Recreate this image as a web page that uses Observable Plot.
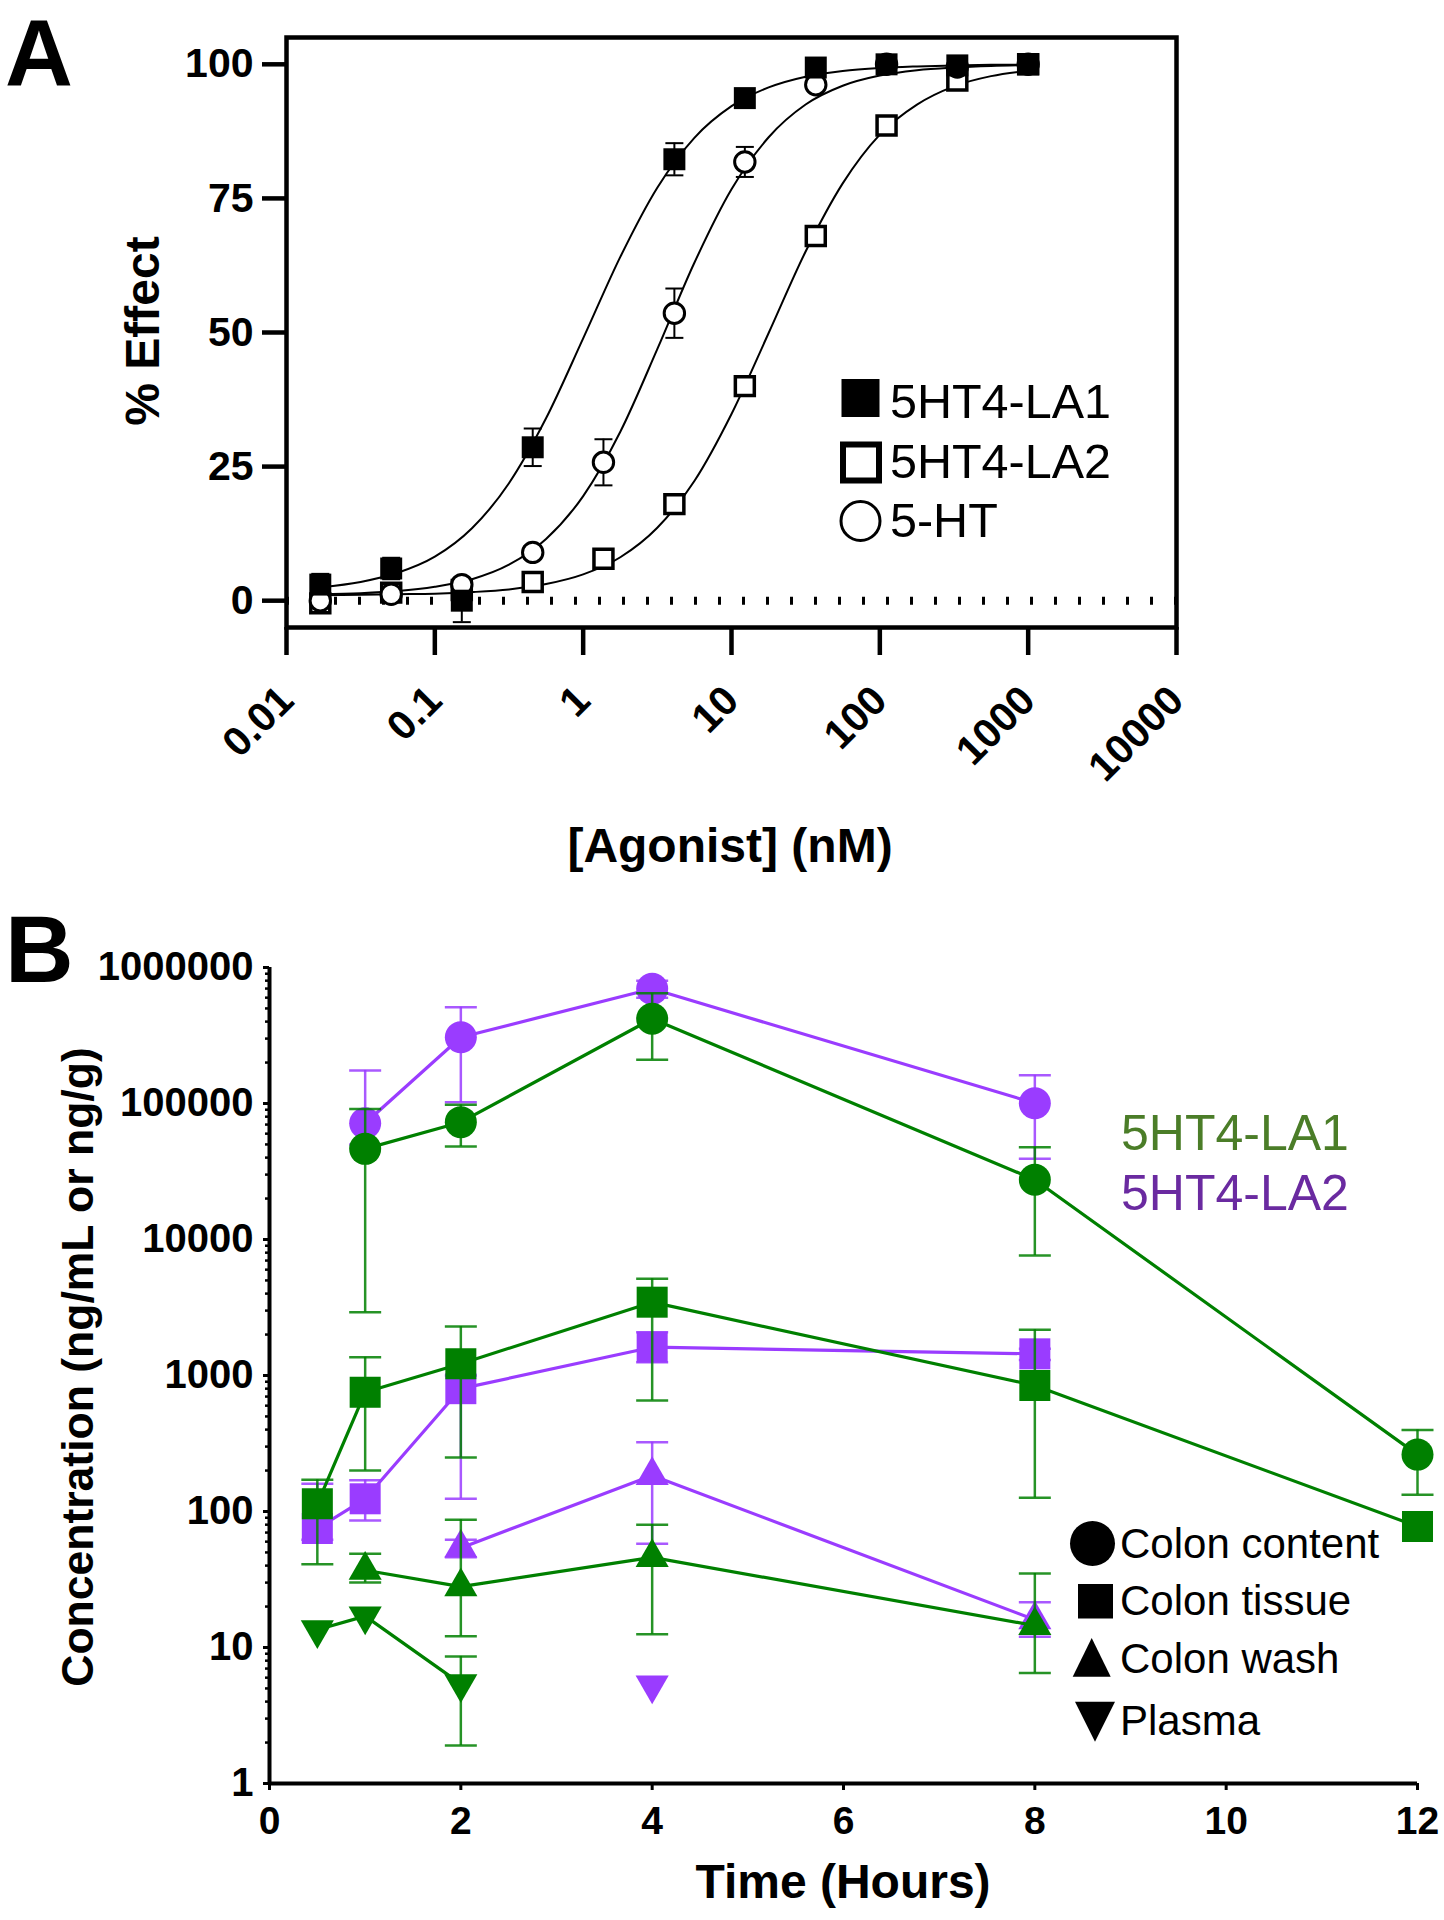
<!DOCTYPE html>
<html><head><meta charset="utf-8">
<script src="https://cdn.jsdelivr.net/npm/d3@7"></script>
<script src="https://cdn.jsdelivr.net/npm/@observablehq/plot@0.6"></script>
<style>
html,body{margin:0;padding:0;background:#fff;overflow:hidden;}
#root{position:relative;width:1444px;height:1920px;overflow:hidden;background:#fff;}
#pA,#pB,#ov{position:absolute;left:0;}
#pA{top:0}#pB{top:900px}#ov{top:0;pointer-events:none}
</style></head><body>
<div id="root"><div id="pA"></div><div id="pB"></div><svg id="ov" width="1444" height="1920"></svg></div>
<script>
// ================= Panel A data =================
const seriesA = ["5HT4-LA1", "5HT4-LA2", "5-HT"];
const agonistConc = [0.0169, 0.0508, 0.152, 0.457, 1.37, 4.12, 12.3, 37.0, 111, 333, 1000];
const la1Effect = [3, 6, 0, 28.6, null, 82.3, 93.7, 99.4, 100, 99.8, 100];
const la1Err    = [2, 2, 4, 3.5, null, 3, 1, 0.6, 0.5, 0.5, 0.5];
const la2Effect = [-0.5, 1.5, 2, 3.5, 7.8, 18, 40, 68, 88.6, 97, 100];
const la2Err    = [1, 1, 1, 1, 1, 1, 1.2, 1.2, 1, 1, 0.5];
const htEffect  = [0, 1.2, 3, 9, 25.8, 53.6, 81.8, 96.2, 100, 99.5, 100];
const htErr     = [0.5, 1, 1, 1.2, 4.3, 4.6, 2.8, 1, 0.5, 0.5, 0.5];
// fitted curves
const fitConc = [0.0169, 0.0316, 0.0562, 0.1, 0.178, 0.316, 0.562, 1, 1.78, 3.16, 5.62, 10, 17.8, 31.6, 56.2, 100, 178, 316, 562, 1000];
const la1Fit = [2.5, 3.5, 5.2, 8.2, 13.5, 21.9, 34.0, 48.9, 64.1, 77.0, 86.3, 92.2, 95.7, 97.7, 98.75, 99.3, 99.6, 99.8, 99.9, 99.95];
const htFit  = [1.2, 1.4, 1.8, 2.6, 4.0, 6.7, 11.5, 19.5, 31.5, 46.9, 63.0, 76.7, 86.4, 92.5, 96.0, 97.9, 98.9, 99.4, 99.7, 99.85];
const la2Fit = [1.0, 1.1, 1.2, 1.3, 1.6, 2.1, 3.1, 4.9, 8.1, 13.6, 22.3, 34.8, 49.9, 65.1, 77.8, 86.9, 92.5, 95.9, 97.8, 98.8];
const xTicksA = [0.01, 0.1, 1, 10, 100, 1000, 10000];
const xTickLabelsA = ["0.01", "0.1", "1", "10", "100", "1000", "10000"];
const yTicksA = [0, 25, 50, 75, 100];
const yTickLabelsA = ["0", "25", "50", "75", "100"];

// ================= Panel B data =================
const seriesB = ["5HT4-LA1", "5HT4-LA2"];
const matrices = ["Colon content", "Colon tissue", "Colon wash", "Plasma"];
const timeH = [0.5, 1, 2, 4, 8, 12];
// 5HT4-LA1
const la1Content   = [null, 46400, 72900, 420000, 27500, 262];
const la1ContentLo = [null, 2920, 48300, 210000, 7630, 133];
const la1ContentHi = [null, 91300, 97700, 646000, 47600, 398];
const la1Tissue    = [114, 753, 1220, 3460, 844, 77.6];
const la1TissueLo  = [41, 200, 250, 655, 126, null];
const la1TissueHi  = [171, 1360, 2290, 5140, 2170, null];
const la1Wash      = [null, 37, 28, 46, 14.5, null];
const la1WashLo    = [null, 30, 12.1, 12.5, 6.5, null];
const la1WashHi    = [null, 49, 87, 80, 35, null];
const la1Plasma    = [13.5, 17, 5.4, null, null, null];
const la1PlasmaLo  = [null, null, 1.9, null, null, null];
const la1PlasmaHi  = [null, null, 8.6, null, null, null];
// 5HT4-LA2
const la2Content   = [null, 71600, 307000, 697000, 100500, null];
const la2ContentLo = [null, 50000, 102000, 600000, 39200, null];
const la2ContentHi = [null, 175000, 510000, 800000, 161000, null];
const la2Tissue    = [75, 124, 800, 1615, 1443, null];
const la2TissueLo  = [62, 86, 124, 1250, 1300, null];
const la2TissueHi  = [160, 170, 1000, 2080, 1570, null];
const la2Wash      = [null, null, 54, 184, 16, null];
const la2WashLo    = [null, null, 46, 58, 12, null];
const la2WashHi    = [null, null, 62, 323, 21.5, null];
const la2Plasma    = [null, null, null, 5.3, null, null];
const la2PlasmaLo  = [null, null, null, null, null, null];
const la2PlasmaHi  = [null, null, null, null, null, null];
const xTicksB = [0, 2, 4, 6, 8, 10, 12];
const xTickLabelsB = ["0", "2", "4", "6", "8", "10", "12"];
const yTicksB = [1, 10, 100, 1000, 10000, 100000, 1000000];
const yTickLabelsB = ["1", "10", "100", "1000", "10000", "100000", "1000000"];
const yMinorB = [2,3,4,5,6,7,8,9, 20,30,40,50,60,70,80,90, 200,300,400,500,600,700,800,900,
  2000,3000,4000,5000,6000,7000,8000,9000, 20000,30000,40000,50000,60000,70000,80000,90000,
  200000,300000,400000,500000,600000,700000,800000,900000];

// ================= helpers =================
const FONT = "'Liberation Sans', Arial, Helvetica, sans-serif";
const GREEN = "#008000", PURPLE = "#9a3cff";
const GREEN_TXT = "#4b7d28", PURPLE_TXT = "#6a2aa0";
const capSymbol = {draw(ctx, size) { const h = Math.sqrt(size / Math.PI); ctx.moveTo(-h, 0); ctx.lineTo(h, 0); }};

function rowsA(vals, errs) {
  return agonistConc.map((x, i) => ({x, y: vals[i], lo: vals[i] == null ? null : vals[i] - errs[i], hi: vals[i] == null ? null : vals[i] + errs[i]}))
    .filter(d => d.y != null);
}
function fitRows(vals) { return fitConc.map((x, i) => ({x, y: vals[i]})); }
function rowsB(vals, lo, hi) {
  return timeH.map((t, i) => ({t, v: vals[i], lo: lo[i], hi: hi[i]})).filter(d => d.v != null);
}
function errRows(rows) { return rows.filter(d => d.lo != null && d.hi != null); }

// ================= Panel A =================
const A1 = rowsA(la1Effect, la1Err), A2 = rowsA(la2Effect, la2Err), AH = rowsA(htEffect, htErr);
function errMarksA(rows) {
  return [
    Plot.ruleX(rows, {x: "x", y1: "lo", y2: "hi", stroke: "black", strokeWidth: 2}),
    Plot.dot(rows, {x: "x", y: "lo", symbol: capSymbol, r: 9, fill: "none", stroke: "black", strokeWidth: 2}),
    Plot.dot(rows, {x: "x", y: "hi", symbol: capSymbol, r: 9, fill: "none", stroke: "black", strokeWidth: 2})
  ];
}
const plotA = Plot.plot({
  width: 1444, height: 900,
  marginLeft: 286, marginRight: 268, marginTop: 37, marginBottom: 273,
  style: {fontFamily: FONT, fontSize: "41px", fontWeight: "bold", color: "black", background: "transparent", overflow: "visible"},
  x: {type: "log", domain: [0.01, 10000]},
  y: {domain: [-5, 105]},
  marks: [
    Plot.ruleY([0], {stroke: "black", strokeWidth: 8, strokeDasharray: "3,21"}),
    Plot.line(fitRows(la1Fit), {x: "x", y: "y", curve: "monotone-x", stroke: "black", strokeWidth: 2}),
    Plot.line(fitRows(htFit), {x: "x", y: "y", curve: "monotone-x", stroke: "black", strokeWidth: 2}),
    Plot.line(fitRows(la2Fit), {x: "x", y: "y", curve: "monotone-x", stroke: "black", strokeWidth: 2}),
    ...errMarksA(A2), ...errMarksA(AH), ...errMarksA(A1),
    Plot.dot(A2, {x: "x", y: "y", symbol: "square", r: 10.7, fill: "white", stroke: "black", strokeWidth: 3.5}),
    Plot.dot(AH, {x: "x", y: "y", symbol: "circle", r: 10.2, fill: "white", stroke: "black", strokeWidth: 3}),
    Plot.dot(A1, {x: "x", y: "y", symbol: "square", r: 12.4, fill: "black", stroke: "none"}),
    Plot.frame({stroke: "black", strokeWidth: 4.5}),
    Plot.axisY(yTicksA, {tickSize: 24, tickPadding: 9, strokeWidth: 4.5, fontSize: 41, fontWeight: "bold",
      tickFormat: d => yTickLabelsA[yTicksA.indexOf(d)], label: null}),
    Plot.axisX(xTicksA, {tickSize: 28, tickPadding: 38, tickRotate: -45, strokeWidth: 4.5, fontSize: 41, fontWeight: "bold",
      tickFormat: d => xTickLabelsA[xTicksA.indexOf(d)], label: null})
  ]
});
document.getElementById("pA").appendChild(plotA);

// ================= Panel B =================
const B = {
  la2: [rowsB(la2Content, la2ContentLo, la2ContentHi), rowsB(la2Tissue, la2TissueLo, la2TissueHi),
        rowsB(la2Wash, la2WashLo, la2WashHi), rowsB(la2Plasma, la2PlasmaLo, la2PlasmaHi)],
  la1: [rowsB(la1Content, la1ContentLo, la1ContentHi), rowsB(la1Tissue, la1TissueLo, la1TissueHi),
        rowsB(la1Wash, la1WashLo, la1WashHi), rowsB(la1Plasma, la1PlasmaLo, la1PlasmaHi)]
};
const shapeB = [
  {symbol: "circle", r: 16, rotate: 0},
  {symbol: "square", r: 17.5, rotate: 0},
  {symbol: "triangle", r: 12.3, rotate: 0},
  {symbol: "triangle", r: 12.3, rotate: 180}
];
function seriesMarksB(list, color) {
  const marks = [];
  list.forEach((rows) => {
    const e = errRows(rows);
    marks.push(Plot.ruleX(e, {x: "t", y1: "lo", y2: "hi", stroke: color, strokeWidth: 2.5, strokeOpacity: 0.85}));
    marks.push(Plot.dot(e, {x: "t", y: "lo", symbol: capSymbol, r: 16, fill: "none", stroke: color, strokeWidth: 2.5, strokeOpacity: 0.85}));
    marks.push(Plot.dot(e, {x: "t", y: "hi", symbol: capSymbol, r: 16, fill: "none", stroke: color, strokeWidth: 2.5, strokeOpacity: 0.85}));
  });
  list.forEach((rows) => {
    if (rows.length > 1) marks.push(Plot.line(rows, {x: "t", y: "v", stroke: color, strokeWidth: 3.2}));
  });
  list.forEach((rows, k) => {
    const s = shapeB[k];
    marks.push(Plot.dot(rows, {x: "t", y: "v", symbol: s.symbol, r: s.r, rotate: s.rotate, fill: color, stroke: "none"}));
  });
  return marks;
}
const plotB = Plot.plot({
  width: 1444, height: 1020,
  marginLeft: 269, marginRight: 27, marginTop: 67, marginBottom: 137,
  style: {fontFamily: FONT, fontSize: "40px", fontWeight: "bold", color: "black", background: "transparent", overflow: "visible"},
  x: {domain: [0, 12]},
  y: {type: "log", domain: [1, 1000000]},
  marks: [
    ...seriesMarksB(B.la2, PURPLE),
    ...seriesMarksB(B.la1, GREEN),
    Plot.axisY(yMinorB, {tickSize: 4, tickPadding: 0, strokeWidth: 2.5, tickFormat: () => "", label: null}),
    Plot.axisY(yTicksB, {tickSize: 6, tickPadding: 10, strokeWidth: 3, fontSize: 40, fontWeight: "bold",
      tickFormat: d => yTickLabelsB[yTicksB.indexOf(d)], label: null}),
    Plot.axisX(xTicksB, {tickSize: 7, tickPadding: 16, strokeWidth: 3, fontSize: 39, fontWeight: "bold",
      tickFormat: d => xTickLabelsB[xTicksB.indexOf(d)], label: null}),
    Plot.ruleX([0], {stroke: "black", strokeWidth: 4}),
    Plot.ruleY([1], {stroke: "black", strokeWidth: 4})
  ]
});
document.getElementById("pB").appendChild(plotB);

// ================= overlay text & legends =================
const ov = d3.select("#ov");
function txt(x, y, s, o = {}) {
  const t = ov.append("text").attr("x", x).attr("y", y).text(s)
    .attr("font-family", FONT).attr("font-size", o.size || 40)
    .attr("font-weight", o.weight || "normal").attr("fill", o.fill || "black");
  if (o.anchor) t.attr("text-anchor", o.anchor);
  if (o.rotate) t.attr("transform", `rotate(${o.rotate} ${x} ${y})`);
  return t;
}
// panel letters
txt(5, 86, "A", {size: 94, weight: "bold"});
txt(5, 982, "B", {size: 95, weight: "bold"});
// axis titles
txt(159, 331, "% Effect", {size: 48, weight: "bold", anchor: "middle", rotate: -90});
txt(730, 862, "[Agonist] (nM)", {size: 48, weight: "bold", anchor: "middle"});
txt(93, 1367, "Concentration (ng/mL or ng/g)", {size: 44.5, weight: "bold", anchor: "middle", rotate: -90});
txt(843, 1898, "Time (Hours)", {size: 48, weight: "bold", anchor: "middle"});
// legend A
ov.append("rect").attr("x", 841.5).attr("y", 379).attr("width", 38).attr("height", 38).attr("fill", "black");
ov.append("rect").attr("x", 843).attr("y", 444.5).attr("width", 36).attr("height", 36).attr("fill", "white").attr("stroke", "black").attr("stroke-width", 6);
ov.append("circle").attr("cx", 860.5).attr("cy", 521).attr("r", 19.5).attr("fill", "white").attr("stroke", "black").attr("stroke-width", 3);
txt(890, 418, seriesA[0], {size: 48.5});
txt(890, 478, seriesA[1], {size: 48.5});
txt(890, 537, seriesA[2], {size: 48.5});
// legend B (compounds)
txt(1121, 1150, seriesB[0], {size: 50, fill: GREEN_TXT});
txt(1121, 1210, seriesB[1], {size: 50, fill: PURPLE_TXT});
// legend B (matrices)
ov.append("circle").attr("cx", 1092.5).attr("cy", 1543.5).attr("r", 22.5).attr("fill", "black");
ov.append("rect").attr("x", 1078).attr("y", 1584).attr("width", 35).attr("height", 34.5).attr("fill", "black");
ov.append("path").attr("d", "M1091.7,1638L1072.7,1676.7L1110.7,1676.7Z").attr("fill", "black");
ov.append("path").attr("d", "M1075,1701.7L1115,1701.7L1095,1741.7Z").attr("fill", "black");
txt(1120, 1558, matrices[0], {size: 42});
txt(1120, 1615, matrices[1], {size: 42});
txt(1120, 1673, matrices[2], {size: 42});
txt(1120, 1735, matrices[3], {size: 42});
</script>
</body></html>
